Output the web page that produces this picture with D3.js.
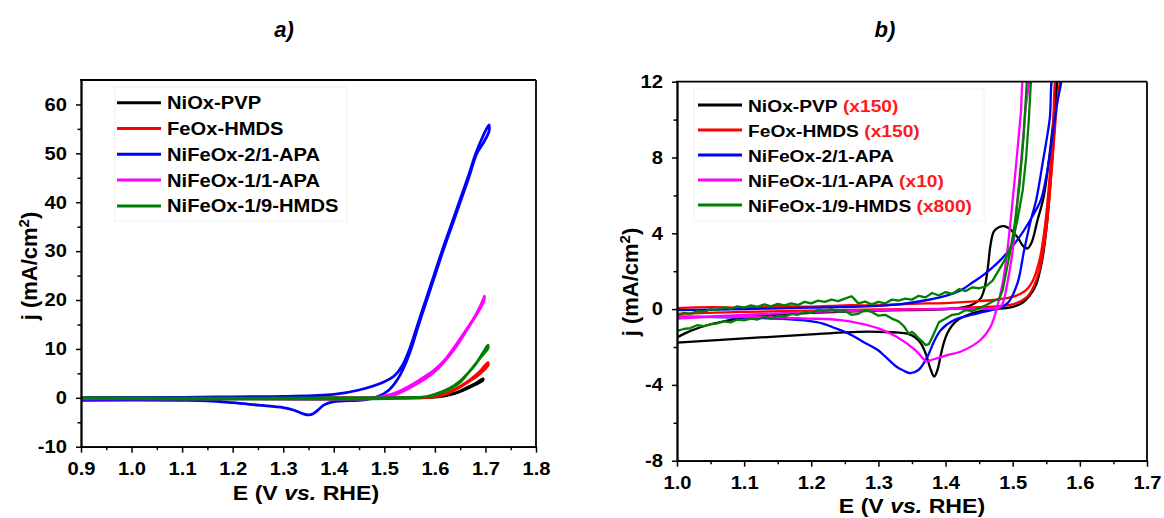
<!DOCTYPE html>
<html><head><meta charset="utf-8">
<script src="https://cdn.jsdelivr.net/npm/d3@7"></script>
<style>
body{margin:0;background:#fff}
svg text{font-family:"Liberation Sans",Arial,sans-serif;font-weight:bold;fill:#000}
</style>
</head><body><svg id="c" width="1164" height="518"></svg>
<script>
// ---------- DATA ----------
const seriesNames = ["NiOx-PVP","FeOx-HMDS","NiFeOx-2/1-APA","NiFeOx-1/1-APA","NiFeOx-1/9-HMDS"];
const seriesColors = ["#000000","#ff0000","#0000ff","#ff00ff","#008000"];
const multipliersB = ["(x150)","(x150)","","(x10)","(x800)"];

const xTicksA = [0.9,1.0,1.1,1.2,1.3,1.4,1.5,1.6,1.7,1.8];
const yTicksA = [-10,0,10,20,30,40,50,60];
const xTicksB = [1.0,1.1,1.2,1.3,1.4,1.5,1.6,1.7];
const yTicksB = [-8,-4,0,4,8,12];

// Panel a) : [E (V vs RHE), j (mA/cm2)]
const a_NiOx = [[0.9,0.0],[1.3,0.0],[1.55,0.0],[1.59,0.1],[1.62,0.45],[1.64,0.95],[1.654,1.6],[1.67,2.4],[1.683,3.1],[1.695,3.9],[1.695,3.6],[1.68,2.7],[1.66,1.7],[1.64,0.9],[1.62,0.4],[1.6,0.12],[1.55,0.0],[0.9,-0.1]];
const a_FeOx = [[0.9,0.0],[1.55,0.0],[1.59,0.15],[1.62,0.8],[1.643,1.9],[1.66,3.0],[1.672,3.9],[1.69,5.5],[1.705,7.2],[1.705,6.6],[1.69,5.0],[1.67,3.5],[1.65,2.2],[1.62,0.7],[1.59,0.1],[1.55,0.0],[0.9,-0.1]];
const a_NiFe21 = [[0.9,0.0],[1.1,0.1],[1.2,0.2],[1.3,0.3],[1.4,0.7],[1.45,1.6],[1.5,3.3],[1.52,4.5],[1.535,6.5],[1.55,10.0],[1.566,15],[1.582,20],[1.598,25],[1.614,30],[1.631,35],[1.648,40],[1.665,45],[1.681,50],[1.695,53.5],[1.707,55.8],
  [1.707,54.5],[1.695,52],[1.683,50],[1.667,45],[1.65,40],[1.633,35],[1.616,30],[1.6,25],[1.584,20],[1.568,15],[1.553,10],[1.54,6.5],[1.525,3.6],[1.508,1.5],[1.488,0.3],[1.46,-0.4],[1.4,-0.8],[1.38,-1.5],[1.37,-2.4],[1.36,-3.2],[1.35,-3.5],[1.34,-3.3],[1.32,-2.5],[1.3,-2.0],[1.25,-1.5],[1.2,-1.0],[1.15,-0.6],[1.1,-0.5],[0.9,-0.5]];
const a_NiFe11 = [[0.9,-0.1],[1.3,-0.2],[1.45,-0.1],[1.49,0.2],[1.52,0.9],[1.552,2.5],[1.575,4.0],[1.598,5.6],[1.62,7.8],[1.636,10.0],[1.66,13.6],[1.68,16.8],[1.696,20.2],[1.698,20.8],[1.696,19.6],[1.67,15.0],[1.636,9.6],[1.6,5.4],[1.56,2.6],[1.52,0.6],[1.48,-0.1],[1.4,-0.3],[1.2,-0.2],[0.9,-0.2]];
const a_NiFe19 = [[0.9,0.0],[1.55,0.05],[1.58,0.2],[1.6,0.7],[1.63,2.0],[1.65,3.4],[1.665,5.0],[1.68,6.8],[1.695,9.2],[1.705,10.8],[1.705,10.2],[1.69,8.2],[1.67,5.6],[1.65,3.2],[1.63,1.8],[1.6,0.6],[1.57,0.1],[0.9,-0.1]];

// Panel b) : scaled currents as plotted
const b_NiOx = [[1.0,-1.5],[1.02,-1.15],[1.05,-0.8],[1.1,-0.45],[1.15,-0.3],[1.2,-0.2],[1.3,-0.08],[1.4,0.0],[1.43,0.12],[1.443,0.3],[1.452,0.55],[1.458,1.1],[1.463,2.2],[1.467,3.4],[1.472,4.1],[1.48,4.33],[1.487,4.38],[1.495,4.25],[1.502,4.0],[1.508,3.75],[1.515,3.35],[1.522,3.2],[1.528,3.5],[1.537,4.7],[1.546,5.9],[1.553,7.6],[1.56,9.8],[1.567,12.6],
  [1.567,12.6],[1.562,9.5],[1.557,7.0],[1.551,4.5],[1.544,2.6],[1.535,1.3],[1.525,0.7],[1.515,0.35],[1.5,0.12],[1.47,-0.02],[1.448,-0.15],[1.43,-0.35],[1.418,-0.58],[1.41,-0.85],[1.403,-1.25],[1.398,-1.7],[1.393,-2.4],[1.388,-3.2],[1.383,-3.56],[1.377,-3.1],[1.371,-2.4],[1.363,-1.8],[1.355,-1.5],[1.343,-1.3],[1.3,-1.2],[1.27,-1.2],[1.2,-1.33],[1.1,-1.55],[1.0,-1.77]];
const b_FeOx = [[1.0,0.05],[1.05,0.1],[1.1,0.08],[1.15,0.15],[1.2,0.13],[1.25,0.2],[1.3,0.2],[1.35,0.28],[1.4,0.32],[1.45,0.42],[1.48,0.52],[1.5,0.65],[1.51,0.78],[1.52,1.0],[1.53,1.5],[1.54,2.6],[1.545,3.6],[1.55,5.0],[1.555,7.0],[1.56,9.5],[1.566,12.6],
  [1.57,12.6],[1.565,10.5],[1.56,8.2],[1.555,6.0],[1.55,4.2],[1.545,3.0],[1.54,2.1],[1.53,1.1],[1.52,0.6],[1.5,0.25],[1.45,0.1],[1.4,0.03],[1.3,-0.02],[1.2,-0.08],[1.1,-0.15],[1.0,-0.25]];
const b_NiFe21 = [[1.0,-0.05],[1.1,0.0],[1.2,0.08],[1.274,0.13],[1.33,0.25],[1.373,0.48],[1.4,0.7],[1.423,1.0],[1.44,1.4],[1.458,1.85],[1.482,2.6],[1.507,3.65],[1.532,5.06],[1.542,5.76],[1.55,7.0],[1.558,8.8],[1.565,10.6],[1.572,12.6],
  [1.562,12.6],[1.555,10.0],[1.545,7.8],[1.535,5.76],[1.527,4.7],[1.517,3.1],[1.507,1.36],[1.492,0.3],[1.477,0.04],[1.448,-0.22],[1.413,-0.58],[1.393,-1.1],[1.383,-1.7],[1.373,-2.51],[1.36,-3.2],[1.348,-3.38],[1.335,-3.2],[1.327,-3.04],[1.31,-2.5],[1.299,-2.16],[1.277,-1.72],[1.255,-1.28],[1.235,-1.0],[1.216,-0.75],[1.19,-0.6],[1.15,-0.5],[1.1,-0.45],[1.0,-0.4]];
const b_NiFe11 = [[1.0,-0.5],[1.1,-0.3],[1.2,-0.15],[1.3,-0.05],[1.4,0.0],[1.45,0.03],[1.48,0.08],[1.485,0.3],[1.492,1.36],[1.5,3.1],[1.507,5.76],[1.513,8.0],[1.519,10.5],[1.524,12.6],
  [1.518,12.6],[1.512,10.3],[1.506,8.0],[1.5,5.76],[1.492,3.1],[1.485,1.36],[1.477,0.13],[1.467,-0.93],[1.452,-1.63],[1.422,-2.25],[1.4,-2.45],[1.378,-2.7],[1.372,-2.77],[1.355,-2.16],[1.327,-1.46],[1.3,-1.02],[1.272,-0.75],[1.244,-0.58],[1.19,-0.49],[1.133,-0.42],[1.0,-0.4]];
const b_NiFe19 = [[1.0,-0.35],[1.01,-0.2],[1.02,-0.25],[1.03,-0.1],[1.04,-0.15],[1.05,0.0],[1.06,-0.05],[1.07,0.1],[1.08,0.02],[1.09,0.15],[1.1,0.08],[1.11,0.2],[1.12,0.12],[1.13,0.25],[1.14,0.15],[1.15,0.28],[1.16,0.2],[1.17,0.3],[1.18,0.22],[1.19,0.38],[1.2,0.3],[1.21,0.45],[1.22,0.38],[1.23,0.5],[1.24,0.42],[1.25,0.55],[1.26,0.68],[1.265,0.5],[1.27,0.3],[1.28,0.4],[1.29,0.25],[1.3,0.38],[1.31,0.3],[1.32,0.5],[1.33,0.45],[1.34,0.55],[1.35,0.5],[1.36,0.7],[1.37,0.62],[1.38,0.85],[1.39,0.72],[1.4,0.9],[1.41,0.8],[1.42,1.05],[1.43,0.95],[1.44,1.15],[1.45,1.1],[1.46,1.2],[1.47,1.5],[1.48,2.1],[1.49,2.7],[1.5,3.6],[1.507,4.7],[1.515,6.3],[1.52,8.0],[1.524,10],[1.528,12.6],
  [1.522,12.6],[1.516,9],[1.51,6.5],[1.503,4.5],[1.496,3.0],[1.49,1.9],[1.485,1.0],[1.48,0.55],[1.47,0.4],[1.46,0.2],[1.45,0.05],[1.44,-0.1],[1.43,-0.05],[1.42,-0.25],[1.41,-0.3],[1.4,-0.5],[1.39,-0.7],[1.385,-1.1],[1.38,-1.5],[1.375,-1.85],[1.37,-1.9],[1.365,-1.7],[1.36,-1.55],[1.355,-1.35],[1.35,-1.2],[1.345,-1.3],[1.34,-1.0],[1.335,-0.8],[1.33,-0.65],[1.32,-0.5],[1.31,-0.3],[1.3,-0.35],[1.29,-0.15],[1.28,-0.05],[1.27,-0.25],[1.26,-0.3],[1.25,-0.1],[1.24,-0.15],[1.23,0.0],[1.22,-0.1],[1.21,-0.05],[1.2,-0.2],[1.19,-0.15],[1.18,-0.3],[1.17,-0.25],[1.16,-0.4],[1.15,-0.35],[1.14,-0.5],[1.13,-0.4],[1.12,-0.55],[1.11,-0.5],[1.1,-0.6],[1.09,-0.55],[1.08,-0.7],[1.07,-0.65],[1.06,-0.75],[1.05,-0.8],[1.04,-0.9],[1.03,-0.85],[1.02,-1.0],[1.01,-1.05],[1.0,-1.15]];

const panelAData = [a_NiOx,a_FeOx,a_NiFe21,a_NiFe11,a_NiFe19];
const panelBData = [b_NiOx,b_FeOx,b_NiFe21,b_NiFe11,b_NiFe19];

// ---------- DRAW ----------
const svg = d3.select("#c");
const fmt1 = d3.format(".1f");

function panel(cfg){
  const g = svg.append("g");
  const x = d3.scaleLinear().domain(cfg.xDomain).range([cfg.left, cfg.right]);
  const y = d3.scaleLinear().domain(cfg.yDomain).range([cfg.bottom, cfg.top]);
  const id = "clip" + cfg.name;
  svg.append("defs").append("clipPath").attr("id", id).append("rect")
    .attr("x", cfg.left).attr("y", cfg.top).attr("width", cfg.right-cfg.left).attr("height", cfg.bottom-cfg.top);

  // legend box (faint)
  g.append("rect").attr("x", cfg.legBox[0]).attr("y", cfg.legBox[1]).attr("width", cfg.legBox[2]).attr("height", cfg.legBox[3])
    .attr("fill", "#fff").attr("stroke", "#f0f0f0").attr("stroke-width", 1);

  // series
  const line = d3.line().x(d=>x(d[0])).y(d=>y(d[1]));
  const lg = g.append("g").attr("clip-path", `url(#${id})`);
  cfg.data.forEach((s,i)=>{
    lg.append("path").datum(s)
      .attr("d", line.curve(i===4 && cfg.name==="b" ? d3.curveLinear : d3.curveCatmullRom.alpha(0.5)))
      .attr("fill","none").attr("stroke", seriesColors[i]).attr("stroke-width", cfg.lw)
      .attr("stroke-linejoin","round").attr("stroke-linecap","round");
  });

  // axes
  const xMinor = d3.range(0, cfg.xTicks.length-1).map(k => (cfg.xTicks[k]+cfg.xTicks[k+1])/2);
  const yMinor = d3.range(0, cfg.yTicks.length-1).map(k => (cfg.yTicks[k]+cfg.yTicks[k+1])/2);
  const xAx = g.append("g").attr("transform", `translate(0,${cfg.bottom})`)
    .call(d3.axisBottom(x).tickValues(cfg.xTicks).tickFormat(fmt1).tickSize(6).tickSizeOuter(0).tickPadding(10));
  g.append("g").attr("transform", `translate(0,${cfg.bottom})`)
    .call(d3.axisBottom(x).tickValues(xMinor).tickFormat("").tickSize(3.5).tickSizeOuter(0));
  const yAx = g.append("g").attr("transform", `translate(${cfg.left},0)`)
    .call(d3.axisLeft(y).tickValues(cfg.yTicks).tickFormat(d=>String(d)).tickSize(5).tickSizeOuter(0).tickPadding(9));
  g.append("g").attr("transform", `translate(${cfg.left},0)`)
    .call(d3.axisLeft(y).tickValues(yMinor).tickFormat("").tickSize(3.5).tickSizeOuter(0));
  g.selectAll(".domain").attr("stroke","#000").attr("stroke-width",1.8);
  g.selectAll(".tick line").attr("stroke","#000").attr("stroke-width",1.5);
  xAx.selectAll("text").attr("font-size",18).attr("transform","scale(1.12,1)").attr("fill","#000");
  yAx.selectAll("text").attr("font-size",18).attr("x", -14/1.12).attr("transform","scale(1.12,1)").attr("fill","#000");
  // frame top/right
  g.append("line").attr("x1",cfg.left-1).attr("x2",cfg.right).attr("y1",cfg.top).attr("y2",cfg.top).attr("stroke","#000").attr("stroke-width",1.8);
  g.append("line").attr("x1",cfg.right).attr("x2",cfg.right).attr("y1",cfg.top).attr("y2",cfg.bottom).attr("stroke","#000").attr("stroke-width",1.8);

  // legend
  seriesNames.forEach((n,i)=>{
    const cy = cfg.legY0 + i*cfg.legDy;
    g.append("line").attr("x1",cfg.legX).attr("x2",cfg.legX+44).attr("y1",cy).attr("y2",cy)
      .attr("stroke",seriesColors[i]).attr("stroke-width",3);
    const t = g.append("g").attr("transform",`translate(${cfg.legX+50},${cy+6.5}) scale(${cfg.legSX},1)`)
      .append("text").attr("font-size",cfg.legFS);
    t.append("tspan").text(n);
    if (cfg.mult && cfg.mult[i]) t.append("tspan").attr("fill","#ff1a1a").style("fill","#ff1a1a").text(" " + cfg.mult[i]);
  });

  // title
  g.append("text").attr("x",cfg.titleX).attr("y",37).attr("text-anchor","middle")
    .attr("font-size",22).attr("font-style","italic").text(cfg.title);

  // x label
  const xl = g.append("g").attr("transform",`translate(${cfg.xlX},${cfg.xlY}) scale(1.1,1)`)
    .append("text").attr("text-anchor","middle").attr("font-size",21);
  xl.append("tspan").text("E (V ");
  xl.append("tspan").attr("font-style","italic").text("vs.");
  xl.append("tspan").text(" RHE)");

  // y label
  const yl = g.append("text").attr("transform",`translate(${cfg.ylX},${cfg.ylY}) rotate(-90)`)
    .attr("text-anchor","middle").attr("font-size",22);
  yl.append("tspan").text("j (mA/cm");
  yl.append("tspan").attr("font-size",15).attr("dy",-8).text("2");
  yl.append("tspan").attr("dy",8).text(")");
}

panel({name:"a", left:81, right:536, top:80, bottom:446.7, xDomain:[0.9,1.8], yDomain:[-10,65],
  xTicks:xTicksA, yTicks:yTicksA, data:panelAData, lw:2.8,
  legX:117, legY0:102.7, legDy:25.8, legFS:18, legSX:1.12, legBox:[115,87,232,134], mult:null,
  title:"a)", titleX:284, xlX:306, xlY:500, ylX:37, ylY:266});

panel({name:"b", left:677, right:1147, top:81.7, bottom:460.7, xDomain:[1.0,1.7], yDomain:[-8,12],
  xTicks:xTicksB, yTicks:yTicksB, data:panelBData, lw:2.3,
  legX:698, legY0:105, legDy:25, legFS:17, legSX:1.13, legBox:[694,89,290,132], mult:multipliersB,
  title:"b)", titleX:885, xlX:912, xlY:513, ylX:638, ylY:282});
</script>
</body></html>
